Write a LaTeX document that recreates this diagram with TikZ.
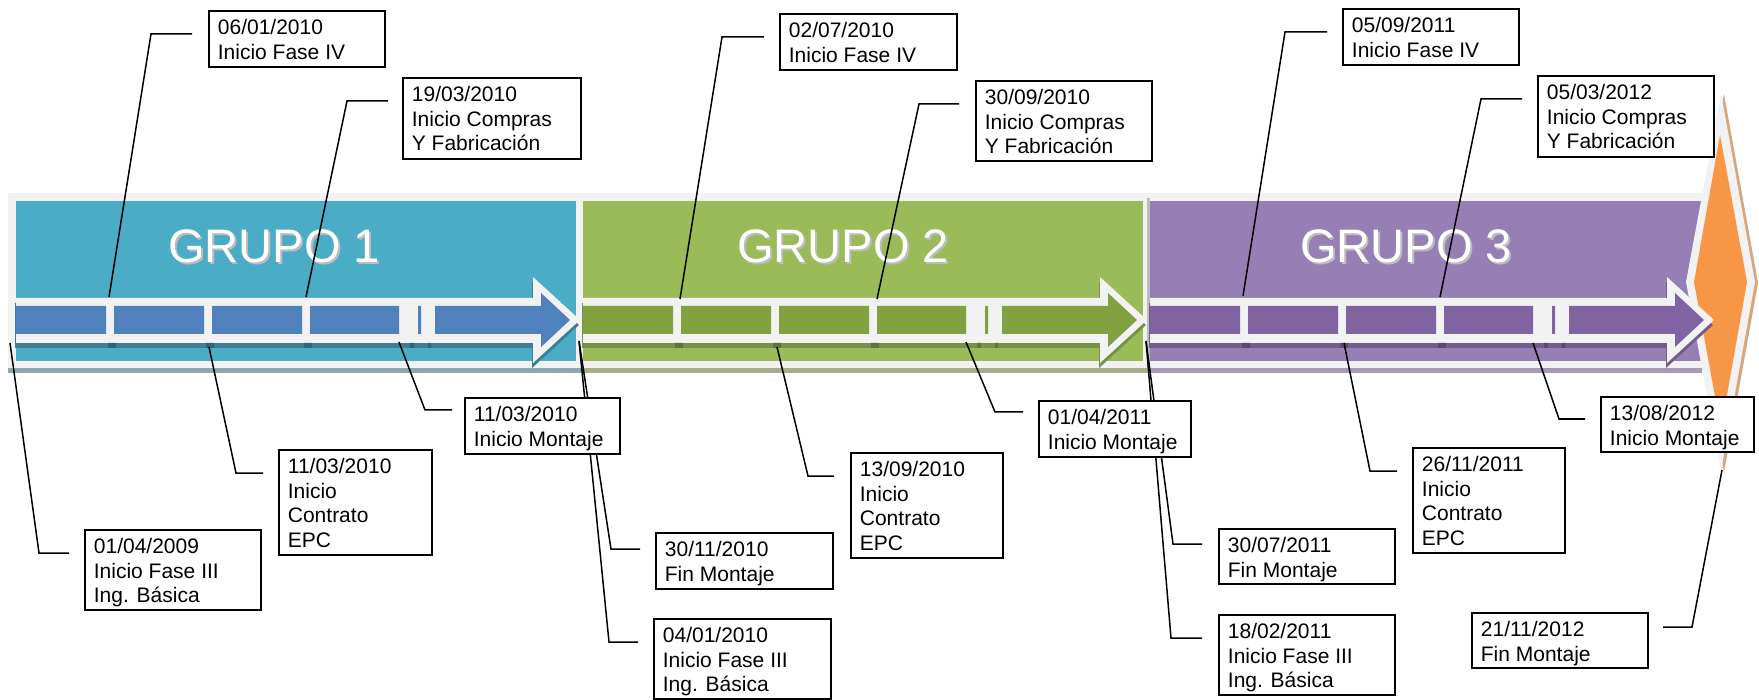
\documentclass[tikz,border=0pt]{standalone}
\usepackage{fontspec}
\setmainfont{Liberation Sans}
\definecolor{frameg}{HTML}{F2F2F2}
\definecolor{bgA}{HTML}{4BACC6}
\definecolor{barA}{HTML}{4F81BD}
\definecolor{dkA}{HTML}{3F7D98}
\definecolor{shA}{HTML}{8FA7AE}
\definecolor{bgB}{HTML}{9BBB59}
\definecolor{barB}{HTML}{82A242}
\definecolor{dkB}{HTML}{74924A}
\definecolor{shB}{HTML}{A5AF8E}
\definecolor{bgC}{HTML}{967FB4}
\definecolor{barC}{HTML}{8064A2}
\definecolor{dkC}{HTML}{725C90}
\definecolor{shC}{HTML}{A59BB2}
\definecolor{orangeD}{HTML}{F79646}
\definecolor{tanD}{HTML}{D7A67E}
\definecolor{gshadow}{HTML}{BDBDBD}
\newcommand{\evt}[3]{\parbox[c][#2pt][t]{#1pt}{\raggedright\leftskip=9pt\fontsize{21}{24.5}\selectfont\rule{0pt}{24pt}#3}}
\tikzset{
  evbox/.style={draw=black, line width=1.8pt, fill=white, inner sep=0pt, anchor=north west},
  leader/.style={draw=black, line width=1.5pt, line join=miter},
  grptext/.style={font=\fontsize{47}{50}\selectfont, text=white, anchor=base, inner sep=0pt},
  grpshadow/.style={font=\fontsize{47}{50}\selectfont, text=gshadow, anchor=base, inner sep=0pt}
}
\begin{document}
\begin{tikzpicture}[x=1pt,y=-1pt]
\useasboundingbox (0,0) rectangle (1759,700);
\fill[white] (0,0) rectangle (1759,700);
% frame
\fill[frameg] (8,193) rectangle (1706,368);
\fill[shA] (8,368) rectangle (583,373);
\fill[shB] (583,368) rectangle (1150,373);
\fill[shC] (1150,368) rectangle (1702,373);
% group backgrounds
\foreach \o/\g in {0/A,567/B,1134/C} {
  \begin{scope}[shift={(\o,0)}]
    \fill[fill=bg\g] (16,201) rectangle (576,361);
  \end{scope}
}
\fill[gshadow] (1147,198) rectangle (1150,373);
% orange diamond
\fill[tanD] (1724,94) -- (1758,283) -- (1724,472) -- (1689,283) -- cycle;
\fill[frameg] (1721,93) -- (1755,282) -- (1721,471) -- (1686,282) -- cycle;
\fill[orangeD] (1720,135) -- (1747,282) -- (1721,429) -- (1694,282) -- cycle;
% strips
\foreach \o/\g in {0/A,567/B,1134/C} {
  \begin{scope}[shift={(\o,0)}]
    \begin{scope}[shift={(-1,5)}]
      \fill[fill=dk\g] (16,298) -- (533,298) -- (533,277) -- (580,320) -- (533,363) -- (533,343) -- (16,343) -- cycle;
    \end{scope}
    \fill[frameg] (16,298) -- (533,298) -- (533,277) -- (580,320) -- (533,363) -- (533,343) -- (16,343) -- cycle;
    \fill[fill=dk\g!80!black] (108,343) rectangle (116,348) (206,343) rectangle (214,348) (304,343) rectangle (312,348) (410,343) rectangle (414,348) (428,343) rectangle (431,348);
    \fill[fill=bar\g] (16,306) rectangle (106,334) (114,306) rectangle (204,334) (212,306) rectangle (302,334) (310,306) rectangle (399,334) (418,306) rectangle (421,334);
    \fill[fill=bar\g] (435,306) -- (541,306) -- (541,293) -- (570,320) -- (541,347) -- (541,334) -- (435,334) -- cycle;
  \end{scope}
}
% group titles
\node[grpshadow] (g1s) at (276,265) {GRUPO 1};
\node[grptext] (g1) at (274,263) {GRUPO 1};
\node[grpshadow] (g2s) at (845,265) {GRUPO 2};
\node[grptext] (g2) at (843,263) {GRUPO 2};
\node[grpshadow] (g3s) at (1408,265) {GRUPO 3};
\node[grptext] (g3) at (1406,263) {GRUPO 3};
% leader coordinates
\coordinate (tA) at (109,297); \coordinate (cA) at (151,34); \coordinate (eA) at (192,34);
\coordinate (tB) at (306,297); \coordinate (cB) at (347,101); \coordinate (eB) at (388,101);
\coordinate (tC) at (680,299); \coordinate (cC) at (722,37); \coordinate (eC) at (764,37);
\coordinate (tD) at (877,299); \coordinate (cD) at (919,104); \coordinate (eD) at (959,104);
\coordinate (tE) at (1243,296); \coordinate (cE) at (1285,32); \coordinate (eE) at (1327,32);
\coordinate (tF) at (1440,297); \coordinate (cF) at (1481,99); \coordinate (eF) at (1522,99);
\coordinate (tG) at (10,343); \coordinate (cG) at (39,553); \coordinate (eG) at (69,553);
\coordinate (tH) at (209,347); \coordinate (cH) at (236,473); \coordinate (eH) at (263,473);
\coordinate (tI) at (399,342); \coordinate (cI) at (425,410); \coordinate (eI) at (452,410);
\coordinate (tJ) at (579,341); \coordinate (cJ) at (611,549); \coordinate (eJ) at (640,549);
\coordinate (cK) at (609,642); \coordinate (eK) at (638,642);
\coordinate (tL) at (777,347); \coordinate (cL) at (808,476); \coordinate (eL) at (834,476);
\coordinate (tM) at (966,342); \coordinate (cM) at (995,412); \coordinate (eM) at (1023,412);
\coordinate (tN) at (1146,341); \coordinate (cN) at (1173,544); \coordinate (eN) at (1202,544);
\coordinate (cO) at (1171,638); \coordinate (eO) at (1202,638);
\coordinate (tP) at (1344,343); \coordinate (cP) at (1370,471); \coordinate (eP) at (1397,471);
\coordinate (tQ) at (1533,343); \coordinate (cQ) at (1559,419); \coordinate (eQ) at (1585,419);
\coordinate (tR) at (1722,470); \coordinate (cR) at (1692,627); \coordinate (eR) at (1663,627);
% leaders
\draw[leader] (tA) -- (cA) -- (eA);
\draw[leader] (tB) -- (cB) -- (eB);
\draw[leader] (tC) -- (cC) -- (eC);
\draw[leader] (tD) -- (cD) -- (eD);
\draw[leader] (tE) -- (cE) -- (eE);
\draw[leader] (tF) -- (cF) -- (eF);
\draw[leader] (tG) -- (cG) -- (eG);
\draw[leader] (tH) -- (cH) -- (eH);
\draw[leader] (tI) -- (cI) -- (eI);
\draw[leader] (tJ) -- (cJ) -- (eJ);
\draw[leader] (tJ) -- (cK) -- (eK);
\draw[leader] (tL) -- (cL) -- (eL);
\draw[leader] (tM) -- (cM) -- (eM);
\draw[leader] (tN) -- (cN) -- (eN);
\draw[leader] (tN) -- (cO) -- (eO);
\draw[leader] (tP) -- (cP) -- (eP);
\draw[leader] (tQ) -- (cQ) -- (eQ);
\draw[leader] (tR) -- (cR) -- (eR);
% boxes
\node[evbox] (bA) at (208,10) {\evt{176}{56}{06/01/2010\\Inicio Fase IV}};
\node[evbox] (bB) at (402,77) {\evt{178}{81}{19/03/2010\\Inicio Compras\\Y Fabricación}};
\node[evbox] (bC) at (779,13) {\evt{177}{56}{02/07/2010\\Inicio Fase IV}};
\node[evbox] (bD) at (975,80) {\evt{176}{80}{30/09/2010\\Inicio Compras\\Y Fabricación}};
\node[evbox] (bE) at (1342,8) {\evt{176}{56}{05/09/2011\\Inicio Fase IV}};
\node[evbox] (bF) at (1537,75) {\evt{176}{81}{05/03/2012\\Inicio Compras\\Y Fabricación}};
\node[evbox] (bG) at (84,529) {\evt{176}{80}{01/04/2009\\Inicio Fase III\\Ing. Básica}};
\node[evbox] (bH) at (278,449) {\evt{153}{105}{11/03/2010\\Inicio\\Contrato\\EPC}};
\node[evbox] (bI) at (464,397) {\evt{155}{56}{11/03/2010\\Inicio Montaje}};
\node[evbox] (bJ) at (655,532) {\evt{177}{56}{30/11/2010\\Fin Montaje}};
\node[evbox] (bK) at (653,618) {\evt{177}{80}{04/01/2010\\Inicio Fase III\\Ing. Básica}};
\node[evbox] (bL) at (850,452) {\evt{152}{105}{13/09/2010\\Inicio\\Contrato\\EPC}};
\node[evbox] (bM) at (1038,400) {\evt{152}{56}{01/04/2011\\Inicio Montaje}};
\node[evbox] (bN) at (1218,528) {\evt{176}{55}{30/07/2011\\Fin Montaje}};
\node[evbox] (bO) at (1218,614) {\evt{176}{80}{18/02/2011\\Inicio Fase III\\Ing. Básica}};
\node[evbox] (bP) at (1412,447) {\evt{152}{105}{26/11/2011\\Inicio\\Contrato\\EPC}};
\node[evbox] (bQ) at (1600,396) {\evt{153}{55}{13/08/2012\\Inicio Montaje}};
\node[evbox] (bR) at (1471,612) {\evt{176}{55}{21/11/2012\\Fin Montaje}};
\end{tikzpicture}
\end{document}
